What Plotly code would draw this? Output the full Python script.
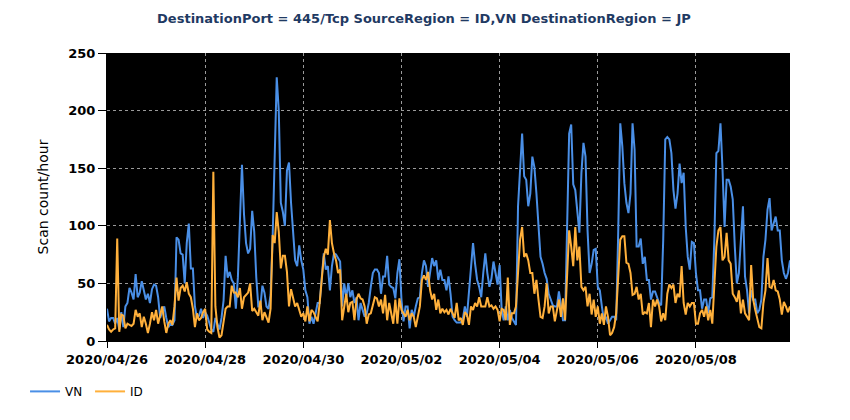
import pandas as pd
import plotly.graph_objects as go

# hourly scan counts from 2020/04/26 00:00
vn = [
    28, 17, 20, 20, 15, 20, 10, 25, 12, 30,
    33, 46, 42, 36, 58, 38, 42, 52, 44, 36,
    41, 33, 45, 49, 48, 38, 20, 25, 30, 20,
    12, 15, 14, 18, 90, 88, 76, 75, 50, 85,
    102, 63, 63, 30, 20, 22, 28, 20, 25, 22,
    15, 10, 8, 20, 15, 10, 20, 35, 74, 55,
    60, 53, 50, 28, 55, 100, 153, 110, 85, 76,
    80, 113, 95, 55, 30, 30, 48, 42, 30, 28,
    40, 90, 170, 229, 200, 120, 112, 100, 148, 155,
    120, 95, 70, 65, 83, 70, 62, 44, 38, 15,
    21, 15, 24, 33, 33, 53, 76, 62, 65, 44,
    65, 76, 75, 72, 69, 30, 50, 38, 50, 38,
    44, 33, 38, 18, 33, 27, 21, 24, 33, 47,
    59, 62, 62, 59, 41, 56, 56, 74, 49, 47,
    46, 37, 59, 71, 36, 17, 30, 30, 11, 27,
    21, 30, 37, 38, 59, 70, 65, 47, 62, 72,
    65, 70, 53, 62, 53, 53, 44, 56, 41, 21,
    18, 16, 16, 16, 19, 30, 21, 44, 59, 85,
    67, 53, 47, 38, 59, 76, 59, 47, 54, 69,
    59, 49, 66, 27, 18, 30, 18, 27, 20, 17,
    14, 117, 151, 180, 143, 140, 117, 128, 160, 151,
    128, 99, 73, 67, 59, 54, 41, 36, 31, 30,
    30, 43, 30, 18, 18, 99, 180, 188, 136, 131,
    114, 94, 146, 172, 160, 96, 59, 67, 79, 80,
    47, 44, 30, 18, 21, 15, 18, 21, 21, 18,
    95, 189, 169, 137, 120, 111, 128, 189, 166, 82,
    82, 89, 67, 73, 53, 53, 36, 43, 43, 38,
    33, 31, 88, 175, 177, 175, 163, 131, 115, 128,
    154, 137, 146, 99, 73, 62, 86, 85, 59, 44,
    44, 28, 36, 36, 24, 37, 38, 88, 163, 165,
    189, 149, 99, 140, 140, 134, 123, 82, 50, 59,
    88, 117, 56, 44, 24, 44, 36, 36, 24, 27,
    36, 73, 88, 114, 124, 96, 102, 108, 96, 96,
    70, 59, 54, 59, 70,
]

id_ = [
    14, 10, 8, 10, 11, 89, 8, 23, 22, 11,
    15, 14, 13, 15, 27, 21, 24, 12, 21, 15,
    7, 15, 25, 18, 27, 15, 24, 30, 17, 7,
    15, 18, 14, 30, 55, 35, 46, 48, 43, 51,
    41, 38, 28, 12, 24, 18, 20, 25, 28, 10,
    8, 7, 147, 30, 12, 3, 5, 15, 28, 30,
    30, 48, 42, 42, 38, 46, 28, 38, 40, 42,
    50, 26, 28, 25, 22, 35, 18, 25, 20, 16,
    28, 92, 85, 112, 95, 63, 74, 74, 60, 30,
    45, 38, 30, 33, 27, 21, 24, 17, 30, 17,
    27, 25, 21, 17, 33, 53, 73, 80, 75, 105,
    85, 76, 70, 59, 62, 18, 30, 41, 25, 33,
    34, 18, 36, 41, 37, 36, 30, 15, 23, 24,
    31, 38, 37, 30, 36, 24, 40, 18, 33, 24,
    15, 36, 15, 37, 27, 24, 21, 27, 18, 24,
    21, 12, 21, 30, 53, 57, 53, 60, 44, 36,
    41, 27, 36, 24, 28, 25, 27, 23, 28, 24,
    20, 33, 18, 20, 14, 25, 23, 14, 30, 27,
    33, 30, 38, 30, 30, 30, 38, 30, 31, 28,
    30, 27, 17, 28, 27, 18, 55, 14, 24, 24,
    30, 59, 88, 99, 73, 76, 70, 59, 59, 41,
    53, 36, 21, 20, 30, 50, 24, 30, 30, 17,
    27, 36, 21, 37, 18, 59, 96, 82, 65, 99,
    70, 82, 47, 44, 47, 30, 41, 23, 36, 21,
    30, 15, 24, 14, 30, 21, 5, 7, 12, 24,
    60, 88, 91, 91, 68, 67, 59, 40, 41, 47,
    36, 41, 23, 25, 24, 33, 12, 36, 30, 36,
    30, 17, 24, 18, 41, 49, 46, 49, 33, 41,
    38, 65, 33, 23, 33, 30, 33, 33, 15, 15,
    24, 27, 21, 30, 18, 27, 15, 53, 82, 96,
    99, 70, 73, 94, 70, 67, 41, 38, 34, 44,
    24, 36, 24, 21, 18, 66, 36, 27, 18, 12,
    11, 33, 44, 72, 47, 46, 53, 44, 43, 36,
    23, 34, 30, 25, 30,
]

hours = pd.date_range("2020-04-26 00:00", periods=len(vn), freq="h")

fig = go.Figure()
fig.add_trace(go.Scatter(x=hours, y=vn, name="VN", mode="lines",
                         line=dict(color="#4a8fe6", width=2)))
fig.add_trace(go.Scatter(x=hours, y=id_, name="ID", mode="lines",
                         line=dict(color="#ffb03b", width=2)))

font = "DejaVu Sans"

# page body adds an 8px offset, so the figure is sized a bit smaller
fig.update_layout(
    width=842, height=412,
    margin=dict(l=99, r=60, t=45, b=79),
    paper_bgcolor="white",
    plot_bgcolor="black",
    font=dict(family=font, size=13, color="black"),
    title=dict(text="<b>DestinationPort = 445/Tcp SourceRegion = ID,VN DestinationRegion = JP</b>",
               x=0.494, xanchor="center", y=0.975, yanchor="middle",
               font=dict(family=font, size=13, color="#1f3a63")),
    legend=dict(orientation="h", x=-0.12, y=-0.175, xanchor="left", yanchor="middle",
                font=dict(family=font, size=12, color="black"), itemwidth=30,
                entrywidth=20),
    showlegend=True,
)

fig.update_xaxes(
    range=[hours[0], hours[-1]],
    tickformat="%Y/%m/%d",
    dtick=2 * 24 * 3600 * 1000,
    tick0=hours[0],
    ticks="outside", ticklen=6, tickcolor="black",
    showline=True, linecolor="black", linewidth=1,
    showgrid=True, gridcolor="#9a9a9a", griddash="dot", gridwidth=1,
    tickfont=dict(family=font, size=13, color="black", weight="bold"),
    zeroline=False,
)

fig.update_yaxes(
    range=[0, 250],
    dtick=50,
    ticks="outside", ticklen=8, tickcolor="black",
    showline=True, linecolor="black", linewidth=1,
    showgrid=True, gridcolor="#9a9a9a", griddash="dot", gridwidth=1,
    tickfont=dict(family=font, size=13, color="black", weight="bold"),
    title=dict(text="Scan count/hour", font=dict(family=font, size=14, color="black"), standoff=16),
    zeroline=False,
)

fig.write_html("out.html")
